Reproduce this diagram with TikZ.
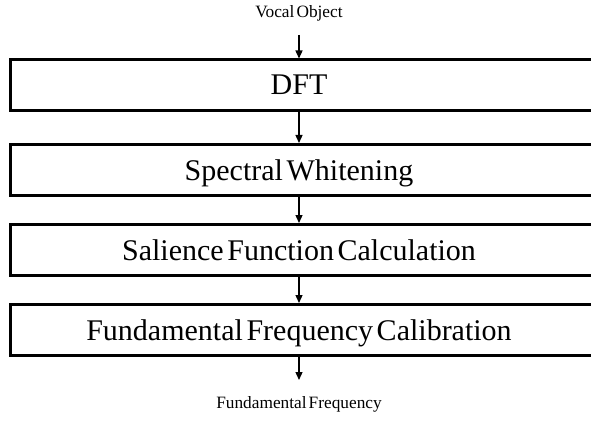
\documentclass[tikz,border=0pt]{standalone}
\usepackage{fontspec}
\setmainfont{Liberation Serif}
\usetikzlibrary{arrows.meta}
\newcommand\mystagefont{\fontsize{30}{34}\selectfont\spaceskip 0.12em\relax}
\newcommand\myiofont{\fontsize{17.3}{20}\selectfont\spaceskip 0.12em\relax}
\begin{document}
\begin{tikzpicture}[x=1pt,y=-1pt,
  stagebox/.style={draw=black,line width=3pt,minimum width=640pt,minimum height=51pt,inner sep=0pt,anchor=north west},
  stagelabel/.style={inner sep=0pt,anchor=base,font=\mystagefont},
  iolabel/.style={inner sep=0pt,anchor=base,font=\myiofont},
  flow/.style={line width=1.3pt,-{Triangle[length=8pt,width=7pt]}}]
\useasboundingbox (0,0) rectangle (591,422);
\node[stagebox] (b1) at (8.5,58.5) {};
\node[stagebox] (b2) at (8.5,143) {};
\node[stagebox] (b3) at (8.5,223) {};
\node[stagebox] (b4) at (8.5,303) {};
\node[stagelabel] (l1) at (299,95) {DFT};
\node[stagelabel] (l2) at (299,180) {Spectral Whitening};
\node[stagelabel] (l3) at (299,260) {Salience Function Calculation};
\node[stagelabel] (l4) at (299,340) {Fundamental Frequency Calibration};
\node[iolabel] (in) at (299,18) {Vocal Object};
\node[iolabel] (out) at (299,408) {Fundamental Frequency};
\coordinate (inA) at (299,35);
\coordinate (outB) at (299,380);
\draw[flow] (inA) -- (b1.north -| inA);
\draw[flow] (b1.south -| inA) -- (b2.north -| inA);
\draw[flow] (b2.south -| inA) -- (b3.north -| inA);
\draw[flow] (b3.south -| inA) -- (b4.north -| inA);
\draw[flow] (b4.south -| inA) -- (outB);
\end{tikzpicture}
\end{document}
